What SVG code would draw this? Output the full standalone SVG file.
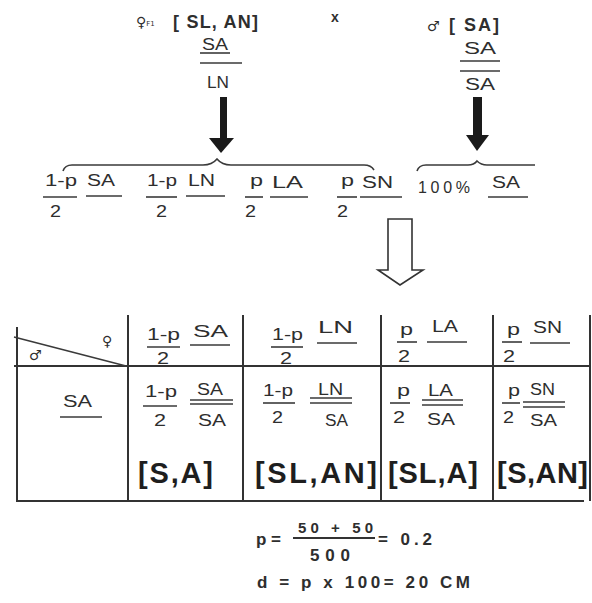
<svg xmlns="http://www.w3.org/2000/svg" width="592" height="603" viewBox="0 0 592 603">
<style>
text{font-family:"Liberation Sans","DejaVu Sans",sans-serif;fill:#2e2e2e}
.t{font-size:16px}
.s{font-size:14px;font-family:"DejaVu Sans",sans-serif}
.b{font-weight:bold}
.big{font-size:29px;font-weight:bold;fill:#1e1e1e}
.ln{stroke:#3a3a3a;stroke-width:1.6;fill:none}
.grid{stroke:#333;stroke-width:2;fill:none}
.c{text-anchor:middle}
</style>
<rect width="592" height="603" fill="#fff"/>

<g id="parent-female">
<text class="s" x="136" y="27">♀<tspan font-size="7" dy="-1">F1</tspan></text>
<text class="b" x="173" y="28" font-size="18" textLength="85" lengthAdjust="spacing">[ SL, AN]</text>
<text class="t" x="202" y="50" textLength="26" lengthAdjust="spacingAndGlyphs">SA</text>
<line class="ln" x1="200" y1="53" x2="230" y2="53"/>
<line class="ln" x1="200" y1="63" x2="242" y2="63"/>
<text class="t" x="207" y="88" textLength="22" lengthAdjust="spacingAndGlyphs">LN</text>
</g>

<g id="cross">
<text class="b" x="331" y="22" font-size="14">x</text>
</g>

<g id="parent-male">
<text class="s" x="427" y="31">♂</text>
<text class="b" x="449" y="31" font-size="18" textLength="50" lengthAdjust="spacing">[ SA]</text>
<text class="t" x="464" y="54" textLength="32" lengthAdjust="spacingAndGlyphs">SA</text>
<line class="ln" x1="460" y1="61" x2="500" y2="61"/>
<line class="ln" x1="460" y1="71" x2="500" y2="71"/>
<text class="t" x="465" y="90" textLength="30" lengthAdjust="spacingAndGlyphs">SA</text>
</g>

<g id="connectors">
<rect x="220" y="97" width="7" height="42" fill="#1a1a1a"/>
<polygon points="209,138 234,138 221,153" fill="#1a1a1a"/>
<rect x="473" y="97" width="9" height="39" fill="#1a1a1a"/>
<polygon points="466,135 489,135 477,151" fill="#1a1a1a"/>
<path class="ln" d="M63,171 Q65,165 72,165 L203,165 Q212,165 217,159 Q222,165 231,165 L364,165 Q371,165 374,170"/>
<path class="ln" d="M417,171 Q419,165 426,165 L468,165 Q474,165 477,161 Q481,165 487,165 L535,165"/>
<polygon points="388,219 412,219 412,270 423,270 400,285 378,270 388,270" fill="#fff" stroke="#333" stroke-width="1.6"/>
</g>

<g id="gametes">
<text class="t" x="45" y="186" textLength="32" lengthAdjust="spacingAndGlyphs">1-p</text>
<line class="ln" x1="43" y1="197" x2="77" y2="197"/>
<text class="t" x="50" y="217" textLength="11" lengthAdjust="spacingAndGlyphs">2</text>
<text class="t" x="87" y="186" textLength="28" lengthAdjust="spacingAndGlyphs">SA</text>
<line class="ln" x1="86" y1="196" x2="122" y2="196"/>

<text class="t" x="147" y="186" textLength="30" lengthAdjust="spacingAndGlyphs">1-p</text>
<line class="ln" x1="146" y1="197" x2="177" y2="197"/>
<text class="t" x="156" y="217" textLength="11" lengthAdjust="spacingAndGlyphs">2</text>
<text class="t" x="188" y="186" textLength="27" lengthAdjust="spacingAndGlyphs">LN</text>
<line class="ln" x1="186" y1="196" x2="225" y2="196"/>

<text class="t" x="250" y="186" textLength="13" lengthAdjust="spacingAndGlyphs">p</text>
<line class="ln" x1="245" y1="197" x2="263" y2="197"/>
<text class="t" x="245" y="217" textLength="11" lengthAdjust="spacingAndGlyphs">2</text>
<text class="t" x="272" y="188" textLength="31" lengthAdjust="spacingAndGlyphs">LA</text>
<line class="ln" x1="270" y1="197" x2="308" y2="197"/>

<text class="t" x="341" y="186" textLength="13" lengthAdjust="spacingAndGlyphs">p</text>
<line class="ln" x1="337" y1="197" x2="357" y2="197"/>
<text class="t" x="337" y="217" textLength="11" lengthAdjust="spacingAndGlyphs">2</text>
<text class="t" x="362" y="188" textLength="31" lengthAdjust="spacingAndGlyphs">SN</text>
<line class="ln" x1="360" y1="197" x2="402" y2="197"/>

<text class="t" x="418" y="193" font-size="17" textLength="52" lengthAdjust="spacing">100%</text>
<text class="t" x="492" y="188" textLength="28" lengthAdjust="spacingAndGlyphs">SA</text>
<line class="ln" x1="488" y1="197" x2="528" y2="197"/>
</g>

<g id="table">
<line class="grid" x1="17" y1="327" x2="17" y2="501"/>
<line class="grid" x1="128" y1="315" x2="128" y2="501"/>
<line class="grid" x1="243" y1="315" x2="243" y2="501"/>
<line class="grid" x1="381" y1="315" x2="381" y2="501"/>
<line class="grid" x1="493" y1="315" x2="493" y2="501"/>
<line class="grid" x1="590" y1="315" x2="590" y2="501"/>
<line class="grid" x1="14" y1="366" x2="590" y2="366"/>
<line class="grid" x1="16" y1="501" x2="584" y2="501"/>
<line class="ln" x1="14" y1="337" x2="126" y2="366"/>
</g>

<g id="corner">
<text class="s" x="102" y="346" font-size="12">♀</text>
<text class="s" x="29" y="360" font-size="12">♂</text>
</g>

<g id="row-male-SA">
<text class="t" x="63" y="407" textLength="29" lengthAdjust="spacingAndGlyphs">SA</text>
<line class="ln" x1="60" y1="417" x2="102" y2="417"/>
</g>

<g id="head-1">
<text class="t" x="147" y="340" textLength="33" lengthAdjust="spacingAndGlyphs">1-p</text>
<line class="ln" x1="147" y1="347" x2="180" y2="347"/>
<text class="t" x="157" y="364" textLength="12" lengthAdjust="spacingAndGlyphs">2</text>
<text class="t" x="193" y="337" textLength="35" lengthAdjust="spacingAndGlyphs">SA</text>
<line class="ln" x1="190" y1="345" x2="230" y2="345"/>
</g>
<g id="head-2">
<text class="t" x="272" y="340" textLength="31" lengthAdjust="spacingAndGlyphs">1-p</text>
<line class="ln" x1="271" y1="347" x2="303" y2="347"/>
<text class="t" x="280" y="364" textLength="12" lengthAdjust="spacingAndGlyphs">2</text>
<text class="t" x="318" y="333" textLength="35" lengthAdjust="spacingAndGlyphs">LN</text>
<line class="ln" x1="317" y1="343" x2="357" y2="343"/>
</g>
<g id="head-3">
<text class="t" x="400" y="335" textLength="13" lengthAdjust="spacingAndGlyphs">p</text>
<line class="ln" x1="397" y1="342" x2="417" y2="342"/>
<text class="t" x="398" y="362" textLength="12" lengthAdjust="spacingAndGlyphs">2</text>
<text class="t" x="432" y="332" textLength="26" lengthAdjust="spacingAndGlyphs">LA</text>
<line class="ln" x1="427" y1="342" x2="467" y2="342"/>
</g>
<g id="head-4">
<text class="t" x="507" y="335" textLength="13" lengthAdjust="spacingAndGlyphs">p</text>
<line class="ln" x1="502" y1="342" x2="522" y2="342"/>
<text class="t" x="503" y="362" textLength="12" lengthAdjust="spacingAndGlyphs">2</text>
<text class="t" x="533" y="333" textLength="29" lengthAdjust="spacingAndGlyphs">SN</text>
<line class="ln" x1="530" y1="343" x2="570" y2="343"/>
</g>

<g id="cell-1">
<text class="t" x="145" y="397" textLength="32" lengthAdjust="spacingAndGlyphs">1-p</text>
<line class="ln" x1="143" y1="406" x2="177" y2="406"/>
<text class="t" x="154" y="426" textLength="12" lengthAdjust="spacingAndGlyphs">2</text>
<text class="t" x="197" y="395" textLength="26" lengthAdjust="spacingAndGlyphs">SA</text>
<line class="ln" x1="190" y1="400" x2="233" y2="400"/>
<line class="ln" x1="190" y1="404" x2="233" y2="404"/>
<text class="t" x="198" y="426" textLength="28" lengthAdjust="spacingAndGlyphs">SA</text>
<text class="big" x="138" y="483" textLength="75" lengthAdjust="spacing">[S,A]</text>
</g>
<g id="cell-2">
<text class="t" x="263" y="396" textLength="30" lengthAdjust="spacingAndGlyphs">1-p</text>
<line class="ln" x1="263" y1="403" x2="295" y2="403"/>
<text class="t" x="272" y="423" textLength="11" lengthAdjust="spacingAndGlyphs">2</text>
<text class="t" x="318" y="395" textLength="25" lengthAdjust="spacingAndGlyphs">LN</text>
<line class="ln" x1="310" y1="398" x2="352" y2="398"/>
<line class="ln" x1="310" y1="403" x2="352" y2="403"/>
<text class="t" x="325" y="426" textLength="23" lengthAdjust="spacingAndGlyphs">SA</text>
<text class="big" x="255" y="483" textLength="122" lengthAdjust="spacing">[SL,AN]</text>
</g>
<g id="cell-3">
<text class="t" x="397" y="396" textLength="13" lengthAdjust="spacingAndGlyphs">p</text>
<line class="ln" x1="390" y1="403" x2="410" y2="403"/>
<text class="t" x="393" y="423" textLength="12" lengthAdjust="spacingAndGlyphs">2</text>
<text class="t" x="428" y="396" textLength="25" lengthAdjust="spacingAndGlyphs">LA</text>
<line class="ln" x1="422" y1="400" x2="463" y2="400"/>
<line class="ln" x1="422" y1="405" x2="463" y2="405"/>
<text class="t" x="427" y="425" textLength="28" lengthAdjust="spacingAndGlyphs">SA</text>
<text class="big" x="388" y="483" textLength="90" lengthAdjust="spacing">[SL,A]</text>
</g>
<g id="cell-4">
<text class="t" x="508" y="396" textLength="12" lengthAdjust="spacingAndGlyphs">p</text>
<line class="ln" x1="502" y1="403" x2="520" y2="403"/>
<text class="t" x="503" y="423" textLength="11" lengthAdjust="spacingAndGlyphs">2</text>
<text class="t" x="530" y="395" textLength="25" lengthAdjust="spacingAndGlyphs">SN</text>
<line class="ln" x1="523" y1="402" x2="565" y2="402"/>
<line class="ln" x1="523" y1="407" x2="565" y2="407"/>
<text class="t" x="530" y="426" textLength="27" lengthAdjust="spacingAndGlyphs">SA</text>
<text class="big" x="497" y="483" textLength="91" lengthAdjust="spacing">[S,AN]</text>
</g>

<g id="formula">
<text class="b" x="256" y="545" font-size="17">p =</text>
<text class="b" x="298" y="533" font-size="15" textLength="75" lengthAdjust="spacing">50  + 50</text>
<line x1="293" y1="538" x2="375" y2="538" stroke="#333" stroke-width="2"/>
<text class="b" x="310" y="561" font-size="17" textLength="40" lengthAdjust="spacing">500</text>
<text class="b" x="378" y="545" font-size="17" textLength="54" lengthAdjust="spacing">= 0.2</text>
<text class="b" x="257" y="588" font-size="17" textLength="213" lengthAdjust="spacing">d  = p x 100= 20 CM</text>
</g>
</svg>
